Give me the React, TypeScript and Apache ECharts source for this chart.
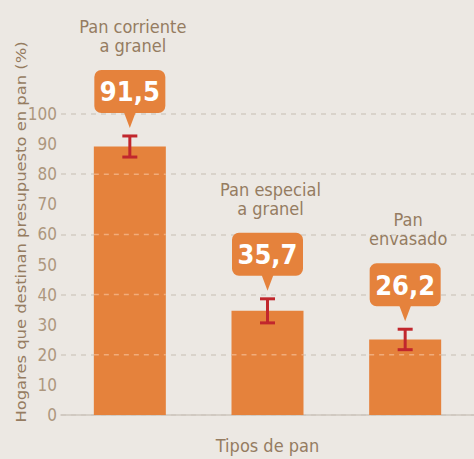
import React, { useEffect, useRef } from "react";
import * as echarts from "echarts";

const categories = ["Pan corriente\na granel", "Pan especial\na granel", "Pan\nenvasado"];
const barValues = [89.2, 34.6, 25.1];
const errorMargins = [3.5, 4.0, 3.4];
const calloutLabels = ["91,5", "35,7", "26,2"];
const gridLineValues = [20, 40, 60, 80, 100];
const yAxisTitle = "Hogares que destinan presupuesto en pan (%)";
const xAxisTitle = "Tipos de pan";

const FONT = "'DejaVu Sans Condensed', 'Liberation Sans Narrow', Roboto, sans-serif";
const ORANGE = "#e5823c";
const RED = "#c1272d";
const TAN = "#ad977e";
const BROWN = "#957c61";
const BG = "#ece8e3";
const BAR_W = 72;

export default function App() {
  const ref = useRef<HTMLDivElement>(null);
  useEffect(() => {
    if (!ref.current) return;
    const chart = echarts.init(ref.current, null, { renderer: "svg" });
    const customData = categories.map((c, i) => [i, barValues[i], errorMargins[i]]);
    chart.setOption({
      animation: false,
      backgroundColor: BG,
      grid: { left: 61, right: -7, top: 114, bottom: 42.5 },
      xAxis: {
        type: "category",
        data: categories,
        axisLabel: { show: false },
        axisTick: { show: false },
        axisLine: { lineStyle: { color: "#cdc6be", width: 1.5 } },
        name: xAxisTitle,
        nameLocation: "middle",
        nameGap: 21,
        nameTextStyle: { color: BROWN, fontSize: 18, fontFamily: FONT, verticalAlign: "top" },
      },
      yAxis: [
        {
          type: "value",
          min: 0,
          max: 100,
          interval: 20,
          axisLabel: { show: false },
          axisLine: { show: false },
          axisTick: { show: false },
          splitLine: { lineStyle: { color: "#d2cbc3", width: 1.5, type: [5, 5] } },
        },
        {
          type: "value",
          min: 0,
          max: 100,
          interval: 10,
          position: "left",
          axisLabel: { color: TAN, fontSize: 17, fontFamily: FONT, margin: 4 },
          axisLine: { show: false },
          axisTick: { show: false },
          splitLine: { show: false },
        },
      ],
      graphic: [
        {
          type: "text",
          x: 21,
          y: 232,
          rotation: Math.PI / 2,
          scaleX: 1.3,
          style: {
            text: yAxisTitle,
            fontSize: 14,
            fontFamily: FONT,
            fill: BROWN,
            align: "center",
            verticalAlign: "middle",
          },
        },
      ],
      series: [
        {
          type: "bar",
          data: barValues,
          barWidth: BAR_W,
          yAxisIndex: 0,
          itemStyle: { color: ORANGE },
          z: 2,
        },
        {
          type: "custom",
          yAxisIndex: 0,
          data: customData,
          encode: { x: 0, y: 1 },
          z: 10,
          clip: false,
          renderItem: (params: any, api: any) => {
            const idx = api.value(0);
            const v = api.value(1);
            const e = api.value(2);
            const cx = api.coord([idx, v])[0];
            const errTop = api.coord([idx, v + e])[1];
            const errBot = api.coord([idx, v - e])[1];
            const children: any[] = [];
            gridLineValues.forEach((g) => {
              if (g < v - 1) {
                const y = api.coord([idx, g])[1];
                children.push({
                  type: "line",
                  shape: { x1: cx - BAR_W / 2, y1: y, x2: cx + BAR_W / 2, y2: y },
                  style: { stroke: "rgba(255,225,200,0.45)", lineWidth: 1.5, lineDash: [5, 5] },
                });
              }
            });
            children.push({
              type: "line",
              shape: { x1: cx, y1: errTop, x2: cx, y2: errBot },
              style: { stroke: RED, lineWidth: 3 },
            });
            children.push({
              type: "line",
              shape: { x1: cx - 7.5, y1: errTop, x2: cx + 7.5, y2: errTop },
              style: { stroke: RED, lineWidth: 3 },
            });
            children.push({
              type: "line",
              shape: { x1: cx - 7.5, y1: errBot, x2: cx + 7.5, y2: errBot },
              style: { stroke: RED, lineWidth: 3 },
            });
            const boxBottom = errTop - 23;
            const boxTop = boxBottom - 43;
            const tip = errTop - 8;
            children.push({
              type: "rect",
              shape: { x: cx - 35.5, y: boxTop, width: 71, height: 43, r: 7 },
              style: { fill: ORANGE },
            });
            children.push({
              type: "polygon",
              shape: { points: [[cx - 6, boxBottom - 1], [cx + 6, boxBottom - 1], [cx, tip]] },
              style: { fill: ORANGE },
            });
            children.push({
              type: "text",
              x: cx,
              y: boxTop + 22,
              style: {
                text: calloutLabels[idx],
                fill: "#ffffff",
                fontSize: 27,
                fontWeight: "bold",
                fontFamily: FONT,
                align: "center",
                verticalAlign: "middle",
              },
            });
            children.push({
              type: "text",
              x: cx + 3,
              y: boxTop - 15,
              style: {
                text: categories[idx],
                fill: BROWN,
                fontSize: 18,
                lineHeight: 19,
                fontFamily: FONT,
                align: "center",
                verticalAlign: "bottom",
              },
            });
            return { type: "group", children };
          },
        },
      ],
    });
    return () => chart.dispose();
  }, []);
  return (
    <div
      ref={ref}
      style={{ position: "fixed", left: 0, top: 0, width: 474, height: 459, background: BG }}
    />
  );
}
